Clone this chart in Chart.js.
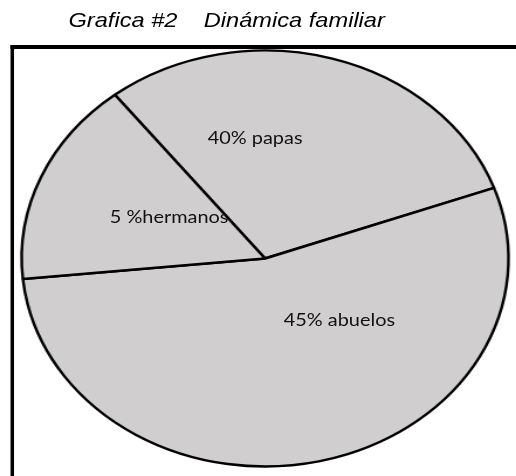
<!DOCTYPE html>
<html>
<head>
<meta charset="utf-8">
<script src="https://cdn.jsdelivr.net/npm/chart.js@4/dist/chart.umd.min.js"></script>
<style>
  html, body { margin: 0; padding: 0; background: #fff; overflow: hidden; }
  #page { position: absolute; left: 0; top: 0; width: 441px; height: 476px;
          transform: scaleX(1.1703); transform-origin: 0 0; }
  #frame { position: absolute; left: 8.5px; top: 45px; width: 440px; height: 440px;
           border-top: 4px solid #000; border-left: 3.4px solid #000; box-sizing: border-box; }
  #title { position: absolute; left: 58.5px; top: 10px; white-space: pre;
           font-family: "Liberation Sans", Arial, sans-serif; font-style: italic;
           font-size: 20.2px; line-height: 20px; color: #000; }
  canvas { position: absolute; left: 0; top: 0; }
  .lbl { position: absolute; width: 200px; text-align: center; white-space: pre;
         font-family: Lato, "Open Sans", sans-serif; font-size: 17px; line-height: 17px; color: #111; }
</style>
</head>
<body>
<div id="page">
  <div id="frame"></div>
  <div id="title"></div>
  <canvas id="c" width="441" height="476"></canvas>
</div>
<script>
// ---- data ----
const categories  = ["papas", "abuelos", "hermanos"];
const labelTexts  = ["40% papas", "45% abuelos", "5 %hermanos"];
const sliceShares = [30.1, 54.0, 16.0];   // visual share of each slice
const startAngle  = 321.9;                 // degrees, where "papas" starts
const titleText   = "Grafica #2    Dinámica familiar";

// label placement (unstretched px: centre x, baseline y)
const labelPos = [[218, 144], [290, 326], [144.5, 223]];

document.getElementById('title').textContent = titleText;

new Chart(document.getElementById('c'), {
  type: 'pie',
  data: {
    labels: categories,
    datasets: [{
      data: sliceShares,
      backgroundColor: '#d0cece',
      borderColor: '#000',
      borderWidth: 2.4,
      radius: 208
    }]
  },
  options: {
    responsive: false,
    animation: false,
    rotation: startAngle,
    layout: { padding: { left: 12, right: 0, top: 41, bottom: 0 } },
    plugins: { legend: { display: false }, tooltip: { enabled: false }, title: { display: false } }
  }
});

const page = document.getElementById('page');
labelTexts.forEach((t, i) => {
  const d = document.createElement('div');
  d.className = 'lbl';
  d.textContent = t;
  d.style.left = (labelPos[i][0] - 100) + 'px';
  d.style.top = (labelPos[i][1] - 15.1) + 'px';
  page.appendChild(d);
});
</script>
</body>
</html>
